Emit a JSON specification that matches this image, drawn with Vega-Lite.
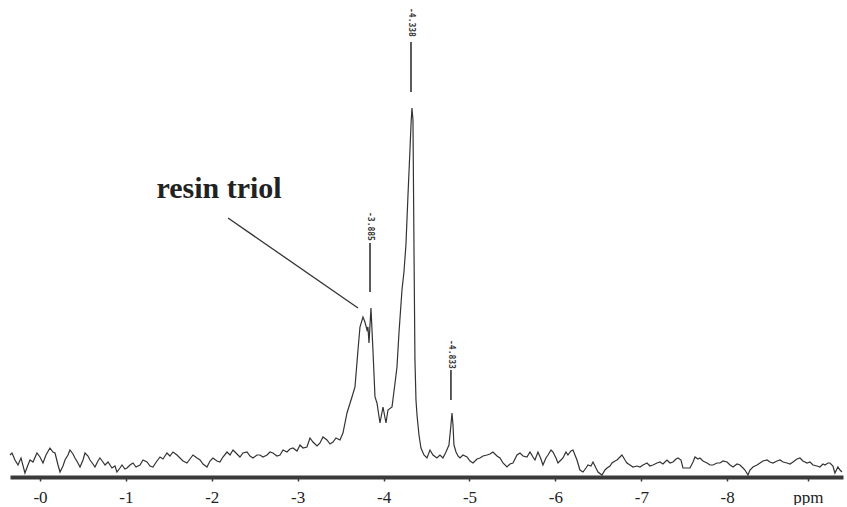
{
  "$schema": "https://vega.github.io/schema/vega-lite/v6.json",
  "width": 833,
  "height": 477,
  "padding": {"left": 7, "top": 0, "right": 4, "bottom": 0},
  "background": "white",
  "config": {
    "view": {"stroke": null},
    "style": {"guide-label": {"font": "Times New Roman, Liberation Serif, serif", "fontSize": 17, "fill": "#222222"}},
    "axis": {"labelFont": "Times New Roman, Liberation Serif, serif", "labelFontSize": 17, "labelColor": "#222222"}
  },
  "datasets": {
    "spec": [
      {"p":0.349,"v":22},{"p":0.326,"v":24},{"p":0.291,"v":17},{"p":0.256,"v":12},{"p":0.221,"v":19},{"p":0.175,"v":4},{"p":0.140,"v":12},{"p":0.116,"v":17},{"p":0.081,"v":15},{"p":0.035,"v":24},
      {"p":0,"v":20},{"p":-0.035,"v":14},{"p":-0.070,"v":22},{"p":-0.116,"v":29},{"p":-0.151,"v":25},{"p":-0.175,"v":24},{"p":-0.210,"v":12},{"p":-0.233,"v":5},{"p":-0.268,"v":11},{"p":-0.291,"v":17},
      {"p":-0.326,"v":22},{"p":-0.349,"v":27},{"p":-0.384,"v":23},{"p":-0.407,"v":19},{"p":-0.442,"v":14},{"p":-0.466,"v":10},{"p":-0.501,"v":17},{"p":-0.524,"v":24},{"p":-0.559,"v":21},{"p":-0.582,"v":17},
      {"p":-0.617,"v":13},{"p":-0.640,"v":10},{"p":-0.675,"v":16},{"p":-0.698,"v":19},{"p":-0.733,"v":15},{"p":-0.757,"v":12},{"p":-0.792,"v":15},{"p":-0.838,"v":9},{"p":-0.873,"v":11},{"p":-0.896,"v":5},
      {"p":-0.931,"v":9},{"p":-0.955,"v":12},{"p":-0.989,"v":8},{"p":-1.013,"v":9},{"p":-1.048,"v":12},{"p":-1.083,"v":14},{"p":-1.118,"v":10},{"p":-1.164,"v":12},{"p":-1.199,"v":17},{"p":-1.246,"v":15},
      {"p":-1.281,"v":11},{"p":-1.315,"v":10},{"p":-1.362,"v":16},{"p":-1.397,"v":20},{"p":-1.432,"v":18},{"p":-1.478,"v":24},{"p":-1.513,"v":21},{"p":-1.548,"v":25},{"p":-1.595,"v":22},{"p":-1.630,"v":19},
      {"p":-1.665,"v":16},{"p":-1.711,"v":14},{"p":-1.746,"v":18},{"p":-1.781,"v":22},{"p":-1.828,"v":19},{"p":-1.863,"v":17},{"p":-1.898,"v":13},{"p":-1.944,"v":10},{"p":-1.979,"v":16},{"p":-2.014,"v":19},
      {"p":-2.060,"v":16},{"p":-2.095,"v":15},{"p":-2.130,"v":20},{"p":-2.177,"v":25},{"p":-2.212,"v":22},{"p":-2.247,"v":27},{"p":-2.293,"v":23},{"p":-2.328,"v":20},{"p":-2.363,"v":24},{"p":-2.410,"v":25},
      {"p":-2.445,"v":21},{"p":-2.480,"v":19},{"p":-2.526,"v":22},{"p":-2.561,"v":22},{"p":-2.596,"v":20},{"p":-2.643,"v":22},{"p":-2.677,"v":25},{"p":-2.712,"v":24},{"p":-2.759,"v":21},{"p":-2.794,"v":22},
      {"p":-2.829,"v":27},{"p":-2.875,"v":25},{"p":-2.910,"v":28},{"p":-2.945,"v":29},{"p":-2.992,"v":26},{"p":-3.027,"v":32},{"p":-3.062,"v":29},{"p":-3.108,"v":30},{"p":-3.143,"v":39},{"p":-3.178,"v":35},
      {"p":-3.225,"v":31},{"p":-3.260,"v":34},{"p":-3.294,"v":40},{"p":-3.341,"v":37},{"p":-3.376,"v":33},{"p":-3.411,"v":35},{"p":-3.446,"v":39},{"p":-3.492,"v":37},{"p":-3.527,"v":44},{"p":-3.574,"v":64},
      {"p":-3.632,"v":80},{"p":-3.667,"v":90},{"p":-3.702,"v":127},{"p":-3.725,"v":150},{"p":-3.760,"v":160},{"p":-3.783,"v":155},{"p":-3.807,"v":147},{"p":-3.818,"v":150},{"p":-3.830,"v":134},{"p":-3.853,"v":169},
      {"p":-3.865,"v":147},{"p":-3.876,"v":127},{"p":-3.900,"v":80},{"p":-3.923,"v":74},{"p":-3.958,"v":54},{"p":-3.993,"v":70},{"p":-4.028,"v":54},{"p":-4.051,"v":67},{"p":-4.098,"v":70},{"p":-4.133,"v":94},
      {"p":-4.156,"v":110},{"p":-4.179,"v":144},{"p":-4.214,"v":187},{"p":-4.237,"v":205},{"p":-4.260,"v":232},{"p":-4.284,"v":282},{"p":-4.307,"v":327},{"p":-4.319,"v":352},{"p":-4.330,"v":369},{"p":-4.342,"v":357},
      {"p":-4.354,"v":227},{"p":-4.365,"v":117},{"p":-4.377,"v":77},{"p":-4.389,"v":62},{"p":-4.412,"v":42},{"p":-4.435,"v":29},{"p":-4.470,"v":22},{"p":-4.505,"v":19},{"p":-4.540,"v":27},{"p":-4.575,"v":22},
      {"p":-4.621,"v":19},{"p":-4.656,"v":22},{"p":-4.691,"v":19},{"p":-4.726,"v":25},{"p":-4.761,"v":32},{"p":-4.784,"v":52},{"p":-4.796,"v":64},{"p":-4.808,"v":52},{"p":-4.819,"v":32},{"p":-4.843,"v":25},
      {"p":-4.866,"v":21},{"p":-4.889,"v":19},{"p":-4.924,"v":22},{"p":-4.971,"v":20},{"p":-5.006,"v":16},{"p":-5.041,"v":14},{"p":-5.087,"v":18},{"p":-5.122,"v":19},{"p":-5.157,"v":21},{"p":-5.204,"v":22},
      {"p":-5.238,"v":23},{"p":-5.273,"v":25},{"p":-5.320,"v":21},{"p":-5.355,"v":19},{"p":-5.390,"v":14},{"p":-5.436,"v":10},{"p":-5.471,"v":13},{"p":-5.506,"v":14},{"p":-5.553,"v":22},{"p":-5.588,"v":24},
      {"p":-5.623,"v":21},{"p":-5.669,"v":20},{"p":-5.704,"v":25},{"p":-5.739,"v":20},{"p":-5.762,"v":17},{"p":-5.797,"v":25},{"p":-5.832,"v":18},{"p":-5.855,"v":12},{"p":-5.890,"v":19},{"p":-5.914,"v":22},
      {"p":-5.949,"v":27},{"p":-5.972,"v":25},{"p":-6.007,"v":19},{"p":-6.030,"v":14},{"p":-6.065,"v":17},{"p":-6.088,"v":19},{"p":-6.123,"v":25},{"p":-6.146,"v":22},{"p":-6.181,"v":26},{"p":-6.205,"v":27},
      {"p":-6.228,"v":22},{"p":-6.251,"v":17},{"p":-6.286,"v":7},{"p":-6.321,"v":5},{"p":-6.356,"v":9},{"p":-6.379,"v":12},{"p":-6.414,"v":11},{"p":-6.438,"v":15},{"p":-6.472,"v":9},{"p":-6.496,"v":5},
      {"p":-6.542,"v":2},{"p":-6.577,"v":7},{"p":-6.601,"v":9},{"p":-6.636,"v":11},{"p":-6.659,"v":14},{"p":-6.694,"v":16},{"p":-6.717,"v":17},{"p":-6.752,"v":20},{"p":-6.775,"v":22},{"p":-6.810,"v":17},
      {"p":-6.833,"v":14},{"p":-6.868,"v":12},{"p":-6.903,"v":10},{"p":-6.950,"v":11},{"p":-6.985,"v":10},{"p":-7.020,"v":12},{"p":-7.066,"v":14},{"p":-7.101,"v":11},{"p":-7.136,"v":12},{"p":-7.183,"v":14},
      {"p":-7.217,"v":15},{"p":-7.252,"v":13},{"p":-7.299,"v":17},{"p":-7.334,"v":14},{"p":-7.369,"v":15},{"p":-7.404,"v":18},{"p":-7.427,"v":19},{"p":-7.462,"v":17},{"p":-7.485,"v":9},{"p":-7.532,"v":9},
      {"p":-7.567,"v":9},{"p":-7.602,"v":15},{"p":-7.625,"v":20},{"p":-7.660,"v":18},{"p":-7.683,"v":19},{"p":-7.718,"v":16},{"p":-7.765,"v":14},{"p":-7.800,"v":12},{"p":-7.835,"v":12},{"p":-7.881,"v":14},
      {"p":-7.916,"v":14},{"p":-7.951,"v":16},{"p":-7.998,"v":15},{"p":-8.033,"v":12},{"p":-8.068,"v":10},{"p":-8.114,"v":13},{"p":-8.149,"v":12},{"p":-8.184,"v":9},{"p":-8.207,"v":7},{"p":-8.242,"v":2},
      {"p":-8.265,"v":7},{"p":-8.300,"v":10},{"p":-8.347,"v":12},{"p":-8.382,"v":14},{"p":-8.417,"v":16},{"p":-8.463,"v":17},{"p":-8.498,"v":15},{"p":-8.533,"v":14},{"p":-8.580,"v":16},{"p":-8.615,"v":17},
      {"p":-8.650,"v":15},{"p":-8.696,"v":14},{"p":-8.731,"v":13},{"p":-8.766,"v":15},{"p":-8.812,"v":18},{"p":-8.847,"v":19},{"p":-8.882,"v":16},{"p":-8.929,"v":14},{"p":-8.964,"v":15},{"p":-8.999,"v":12},
      {"p":-9.045,"v":11},{"p":-9.080,"v":10},{"p":-9.115,"v":13},{"p":-9.138,"v":12},{"p":-9.173,"v":14},{"p":-9.196,"v":14},{"p":-9.231,"v":11},{"p":-9.254,"v":4},{"p":-9.289,"v":10},{"p":-9.313,"v":7},
      {"p":-9.336,"v":5}
    ],
    "peaks": [
      {"p":-4.319,"v1":435,"v2":385,"vt":469,"label":"-4.338"},
      {"p":-3.842,"v1":234,"v2":185,"vt":265,"label":"-3.885"},
      {"p":-4.784,"v1":107,"v2":77,"vt":137,"label":"-4.833"}
    ],
    "annot": [
      {"p":-2.084,"v":279,"p2":-2.189,"va":259,"p3":-3.702,"vb":169,"label":"resin triol"}
    ]
  },
  "layer": [
    {
      "data": {"name": "spec"},
      "mark": {"type": "line", "color": "#333333", "strokeWidth": 1.2},
      "encoding": {
        "x": {
          "field": "p", "type": "quantitative",
          "scale": {"domain": [-9.348, 0.349], "reverse": true, "nice": false, "zero": false},
          "axis": {
            "values": [0, -1, -2, -3, -4, -5, -6, -7, -8, -8.94],
            "labelExpr": "datum.value < -8.5 ? 'ppm' : '-' + abs(datum.value)",
            "title": null, "grid": false,
            "domainColor": "#3a3a3a", "domainWidth": 4,
            "tickColor": "#3a3a3a", "tickSize": 4, "tickWidth": 1.5,
            "labelFont": "Times New Roman, Liberation Serif, serif", "labelFontSize": 17, "labelColor": "#222222",
            "labelPadding": 8, "labelFlush": false, "labelOverlap": false
          }
        },
        "y": {"field": "v", "type": "quantitative", "scale": {"domain": [0, 477], "nice": false, "zero": false}, "axis": null}
      }
    },
    {
      "data": {"name": "peaks"},
      "mark": {"type": "rule", "color": "#333333", "strokeWidth": 1.6},
      "encoding": {
        "x": {"field": "p", "type": "quantitative"},
        "y": {"field": "v1", "type": "quantitative"},
        "y2": {"field": "v2"}
      }
    },
    {
      "data": {"name": "peaks"},
      "mark": {"type": "text", "angle": 90, "align": "left", "baseline": "middle", "font": "DejaVu Sans Mono", "fontWeight": "bold", "fontSize": 8, "color": "#333333"},
      "encoding": {
        "x": {"field": "p", "type": "quantitative"},
        "y": {"field": "vt", "type": "quantitative"},
        "text": {"field": "label"}
      }
    },
    {
      "data": {"name": "annot"},
      "mark": {"type": "rule", "color": "#333333", "strokeWidth": 1.3},
      "encoding": {
        "x": {"field": "p2", "type": "quantitative"},
        "x2": {"field": "p3"},
        "y": {"field": "va", "type": "quantitative"},
        "y2": {"field": "vb"}
      }
    },
    {
      "data": {"name": "annot"},
      "mark": {"type": "text", "align": "center", "baseline": "alphabetic", "font": "Liberation Serif", "fontWeight": "bold", "fontSize": 30, "color": "#222222"},
      "encoding": {
        "x": {"field": "p", "type": "quantitative"},
        "y": {"field": "v", "type": "quantitative"},
        "text": {"field": "label"}
      }
    }
  ]
}
